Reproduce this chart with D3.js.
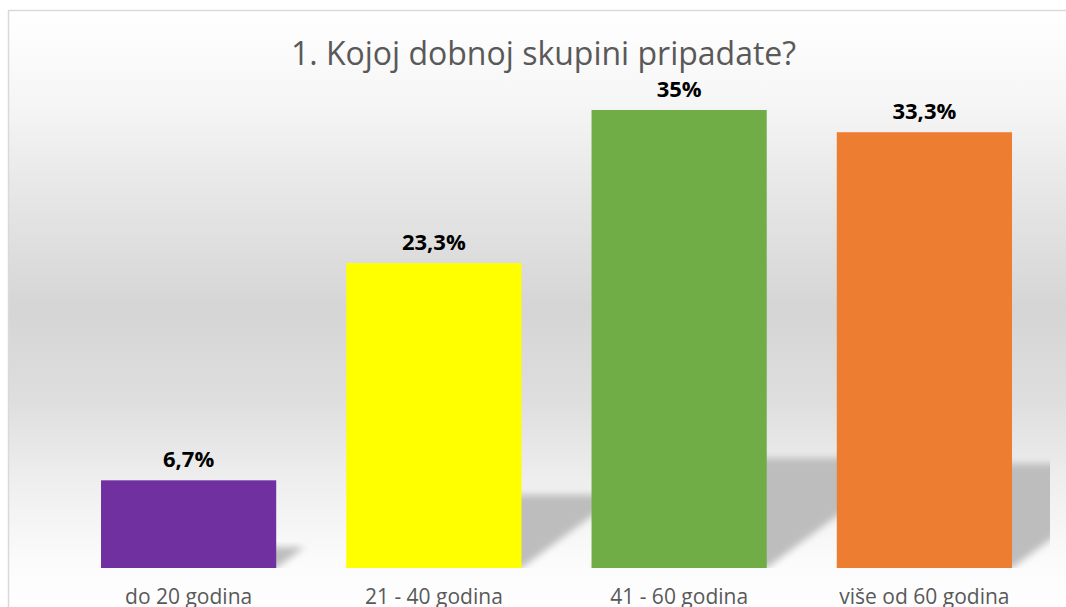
<!DOCTYPE html>
<html><head><meta charset="utf-8">
<script src="https://cdn.jsdelivr.net/npm/d3@7"></script>
<style>html,body{margin:0;padding:0;background:#fff;overflow:hidden}</style>
</head>
<body><svg id="c" width="1066" height="607"></svg>
<script>
const title = "1. Kojoj dobnoj skupini pripadate?";
const categories = ["do 20 godina", "21 - 40 godina", "41 - 60 godina", "više od 60 godina"];
const values = [6.7, 23.3, 35, 33.3];
const valueLabels = ["6,7%", "23,3%", "35%", "33,3%"];
const colors = ["#7030a0", "#ffff00", "#70ad47", "#ed7d31"];

const svg = d3.select("#c");
const defs = svg.append("defs");

const bg = defs.append("linearGradient").attr("id", "bg")
  .attr("gradientUnits", "userSpaceOnUse").attr("x1", 0).attr("x2", 0).attr("y1", 10).attr("y2", 620);
[[10, "#ffffff"], [100, "#f6f6f6"], [190, "#e7e7e7"], [310, "#d5d5d5"], [400, "#dedede"],
 [480, "#eeeeee"], [560, "#fbfbfb"], [620, "#ffffff"]].forEach(([y, c]) => {
  bg.append("stop").attr("offset", (y - 10) / 610).attr("stop-color", c);
});

const blur = defs.append("filter").attr("id", "blur")
  .attr("x", "-20%").attr("y", "-20%").attr("width", "140%").attr("height", "140%");
blur.append("feGaussianBlur").attr("stdDeviation", 3.5);

defs.append("clipPath").attr("id", "plotClip").append("rect")
  .attr("x", 10).attr("y", 0).attr("width", 1040).attr("height", 568);

svg.append("rect").attr("x", 8.5).attr("y", 10.5).attr("width", 1080).attr("height", 620)
  .attr("fill", "url(#bg)").attr("stroke", "#d9d9d9").attr("stroke-width", 1.5);

const x = d3.scaleBand().domain(categories).range([66, 1047]).paddingInner(0.2857).paddingOuter(0.1428);
const y = d3.scaleLinear().domain([0, 40]).range([568, 568 - 40 * 13.086]);
const base = y(0);

const data = categories.map((c, i) => ({ c, v: values[i], label: valueLabels[i], color: colors[i] }));

// perspective shadows
const shadowG = svg.append("g").attr("clip-path", "url(#plotClip)");
shadowG.selectAll("path").data(data).join("path")
  .attr("d", d => {
    const x0 = x(d.c), x1 = x0 + x.bandwidth();
    const sh = (base - y(d.v)) * 0.24;
    const dx = sh * 1.35;
    return `M${x0},${base}L${x1},${base}L${x1 + dx},${base - sh}L${x0 + dx},${base - sh}Z`;
  })
  .attr("fill", "#bdbdbd").attr("filter", "url(#blur)");

svg.append("g").selectAll("rect").data(data).join("rect")
  .attr("x", d => x(d.c)).attr("width", x.bandwidth())
  .attr("y", d => y(d.v)).attr("height", d => base - y(d.v))
  .attr("fill", d => d.color);

svg.append("g").selectAll("text").data(data).join("text")
  .attr("x", d => x(d.c) + x.bandwidth() / 2)
  .attr("y", d => y(d.v) - 13)
  .attr("text-anchor", "middle")
  .attr("font-family", "'Open Sans', sans-serif").attr("font-weight", "bold")
  .attr("font-size", 22).attr("fill", "#000")
  .text(d => d.label);

const ax = svg.append("g").attr("transform", `translate(0,${base})`)
  .call(d3.axisBottom(x).tickSize(0));
ax.select(".domain").remove();
ax.selectAll("text")
  .attr("y", 36).attr("dy", 0)
  .attr("font-family", "'Open Sans', sans-serif").attr("font-size", 21).attr("fill", "#595959");

svg.append("text").attr("x", 543.5).attr("y", 65).attr("text-anchor", "middle")
  .attr("font-family", "'Open Sans', sans-serif").attr("font-size", 32).attr("fill", "#595959")
  .text(title);
</script>
</body></html>
